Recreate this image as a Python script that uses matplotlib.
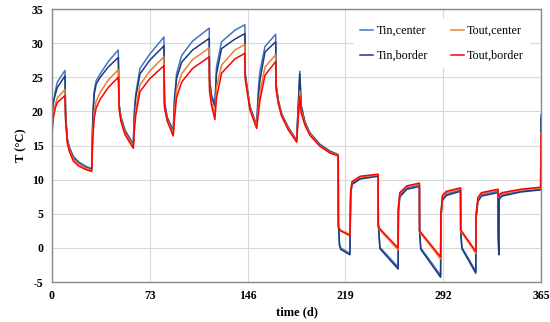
import matplotlib

matplotlib.use("Agg")
import matplotlib.pyplot as plt

# key points (day, Tin center, Tin border, Tout center, Tout border)
day = [
    0, 0.1, 1, 2.5, 4, 9.7,
    10.2, 11.5, 13, 16, 20, 25, 29.6,
    30.5, 31.5, 33, 36, 42, 49.5,
    50.2, 51.5, 54.5, 60.7,
    61.5, 62.5, 65.7, 73, 83.6,
    84, 86, 90.5,
    91.5, 93, 96.8, 105, 117.4,
    117.6, 119, 121.6,
    122.8, 126.6, 136.6, 144,
    144.3, 147.8, 152.8,
    154, 155.2, 159, 167,
    167.3, 169, 171.4, 176.4, 182.6,
    185, 186, 188.8, 192.5, 200, 207.5, 213.7,
    213.8, 214.6, 215.5, 222.4,
    223.0, 224.0, 230, 243.5,
    243.6, 244.8, 258.4,
    258.6, 259.7, 265, 274.3,
    274.4, 275.3, 290.1,
    290.3, 291.5, 294.5, 305,
    305.1, 306, 316.4,
    316.6, 318, 320.6, 333,
    333.1, 333.6, 333.8, 336, 350, 364.8, 365,
]
tin_center = [
    17, 18, 21, 23, 24.3, 26.0,
    19.5, 16.0, 14.8, 13.4, 12.6, 12.0, 11.6,
    19.5, 23, 24.5, 25.5, 27.3, 29.0,
    21, 19.2, 17.3, 15.2,
    20, 22.5, 26.3, 28.4, 30.9,
    21.5, 19.2, 17.2,
    22, 25.5, 28.2, 30.3, 32.2,
    25, 22.5, 20.9,
    26.5, 30.2, 31.9, 32.7,
    25.5, 20.7, 18.0,
    23, 25.8, 29.5, 31.3,
    24, 21.6, 19.7, 17.7, 15.8,
    25.9, 21, 18.5, 16.9, 15.2, 14.2, 13.7,
    3.9, 0.7, 0.0, -0.8,
    8.0, 9.4, 10.2, 10.6,
    3.8, 0.1, -2.8,
    5.5, 7.7, 8.8, 9.2,
    2.6, 0.0, -4.0,
    4.5, 7.2, 7.9, 8.5,
    2.6, 0.1, -3.4,
    4.5, 7.0, 7.8, 8.3,
    2.0, -0.8, 7.3, 7.8, 8.3, 8.6, 19.5,
]
tin_border = [
    19.5, 20, 21.5, 22.5, 23.5, 25.2,
    19.2, 15.8, 14.6, 13.2, 12.4, 11.8, 11.5,
    19.0, 22.5, 24, 25, 26.5, 27.9,
    20.8, 19.0, 17.1, 15.0,
    19.5, 22, 25.5, 27.5, 29.6,
    21.2, 19.0, 17.0,
    21.5, 24.8, 27.2, 29.0, 30.7,
    24.5, 22.3, 20.7,
    25.5, 29.2, 30.6, 31.4,
    25.2, 20.6, 17.9,
    22, 24.5, 28.7, 30.2,
    23.8, 21.5, 19.6, 17.6, 15.7,
    25.5, 20.8, 18.4, 16.8, 15.1, 14.1, 13.6,
    3.6, 0.4, -0.2, -1.0,
    7.9, 9.3, 10.1, 10.5,
    3.5, -0.1, -3.1,
    5.3, 7.5, 8.6, 9.0,
    2.4, -0.2, -4.3,
    4.3, 7.0, 7.7, 8.3,
    2.4, -0.1, -3.7,
    4.3, 6.8, 7.6, 8.1,
    1.5, -1.0, 7.1, 7.6, 8.2, 8.5, 19.0,
]
tout_center = [
    16.5, 17, 19.5, 21, 22, 23.2,
    18.8, 15.6, 14.4, 13.0, 12.3, 11.7, 11.4,
    17, 20, 21.5, 22.8, 24.6, 26.1,
    20.5, 18.8, 16.9, 14.9,
    18, 20.3, 23.9, 25.9, 28.0,
    20.8, 18.8, 16.8,
    20, 23.2, 25.5, 27.6, 29.3,
    23.5, 21.5, 19.5,
    23.5, 26.8, 29, 29.8,
    25, 20.4, 17.8,
    20.5, 22.8, 26.5, 28.3,
    23.5, 21.3, 19.5, 17.5, 15.6,
    23, 20.3, 18.2, 16.7, 15.0, 14.0, 13.6,
    3.3, 2.8, 2.6, 2.0,
    8.3, 9.7, 10.4, 10.7,
    3.1, 2.6, -0.3,
    5.8, 8.0, 9.0, 9.4,
    2.3, 2.1, -1.6,
    4.8, 7.5, 8.1, 8.7,
    2.4, 2.2, -0.8,
    4.8, 7.2, 8.0, 8.5,
    7.6, 7.4, 7.6, 8.0, 8.5, 8.8, 16.8,
]
tout_border = [
    8.8, 17, 19, 20.5, 21.3, 22.3,
    18.5, 15.3, 14.1, 12.7, 12.0, 11.5, 11.2,
    16, 19, 20.5, 21.8, 23.5, 25.0,
    20.2, 18.5, 16.6, 14.6,
    17.2, 19.4, 22.9, 24.8, 26.7,
    20.5, 18.6, 16.4,
    19, 22, 24.3, 26.3, 28.0,
    23, 21, 18.8,
    22, 25.6, 27.7, 28.5,
    24.7, 20.2, 17.5,
    19.5, 21.6, 25.3, 27.3,
    23.2, 21.1, 19.3, 17.3, 15.5,
    22.2, 19.8, 18.0, 16.5, 14.9, 13.9, 13.5,
    3.1, 2.8, 2.5, 1.8,
    8.2, 9.7, 10.5, 10.8,
    3.2, 2.8, 0.0,
    6.0, 8.1, 9.1, 9.5,
    2.5, 2.3, -1.3,
    5.0, 7.7, 8.3, 8.8,
    2.6, 2.4, -0.5,
    5.0, 7.4, 8.1, 8.6,
    7.6, 7.5, 7.8, 8.1, 8.6, 8.9, 16.5,
]

x_ticks = [0, 73, 146, 219, 292, 365]
y_ticks = [-5, 0, 5, 10, 15, 20, 25, 30, 35]

plt.rcParams["font.family"] = ["Liberation Serif", "DejaVu Serif"]
plt.rcParams["axes.unicode_minus"] = False

fig = plt.figure(figsize=(5.5, 3.22), dpi=100)
ax = fig.add_axes([0.0945, 0.124, 0.889, 0.848])

l1, = ax.plot(day, tin_center, color="#4472C4", lw=1.1, label="Tin,center")
l3, = ax.plot(day, tin_border, color="#1F3A7A", lw=1.1, label="Tin,border")
l2, = ax.plot(day, tout_center, color="#ED7D31", lw=1.1, label="Tout,center")
l4, = ax.plot(day, tout_border, color="#FF0000", lw=1.1, label="Tout,border")

ax.set_xlim(0, 365)
ax.set_ylim(-5, 35)
ax.set_xticks(x_ticks)
ax.set_yticks(y_ticks)
ax.tick_params(length=0, labelsize=8.5, pad=6)
for lab in ax.get_xticklabels() + ax.get_yticklabels():
    lab.set_fontweight("bold")
ax.grid(True, color="#d9d9d9", lw=0.8)
ax.set_axisbelow(True)
for sp in ax.spines.values():
    sp.set_color("#888888")
    sp.set_linewidth(1.0)

ax.set_xlabel("time (d)", fontsize=9, fontweight="bold", labelpad=3)
ax.set_ylabel("T (°C)", fontsize=9, fontweight="bold", labelpad=3)

leg = ax.legend(handles=[l1, l3, l2, l4], ncol=2, loc="upper right",
                bbox_to_anchor=(0.99, 0.985), fontsize=8.7, frameon=True,
                facecolor="white", edgecolor="none", framealpha=1,
                handlelength=1.1, handletextpad=0.25, columnspacing=1.9,
                labelspacing=1.05, borderpad=0.5)

fig.savefig("out.png", dpi=100)
